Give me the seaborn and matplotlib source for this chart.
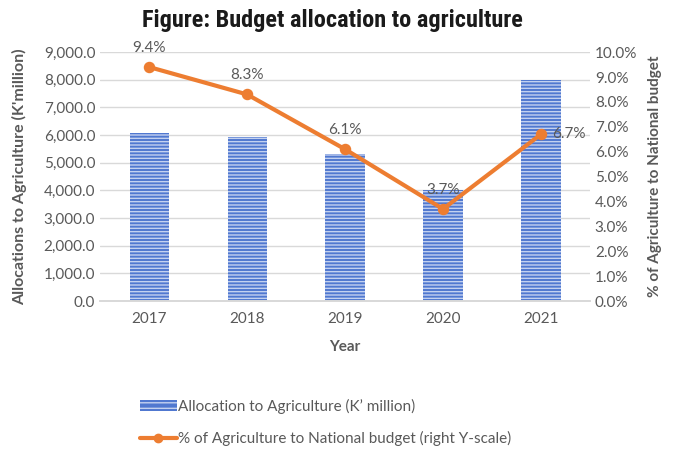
import matplotlib
matplotlib.use("Agg")
import matplotlib.pyplot as plt
import seaborn as sns
import pandas as pd
from matplotlib.ticker import FuncFormatter, MultipleLocator
from matplotlib.patches import Patch
from matplotlib.lines import Line2D

years = ["2017", "2018", "2019", "2020", "2021"]
allocation = [6070, 5930, 5310, 4000, 7980]
pct_national = [9.4, 8.3, 6.1, 3.7, 6.7]
pct_labels = ["9.4%", "8.3%", "6.1%", "3.7%", "6.7%"]

sns.set_theme(style="white")
plt.rcParams['font.family'] = ['Lato', 'DejaVu Sans']
plt.rcParams['hatch.linewidth'] = 1.0

df = pd.DataFrame({"Year": years, "Allocation": allocation, "Pct": pct_national})

fig = plt.figure(figsize=(6.86, 4.57), dpi=100)
ax = fig.add_axes([0.146, 0.341, 0.714, 0.545])
ax2 = ax.twinx()

sns.barplot(data=df, x="Year", y="Allocation", ax=ax, width=0.4,
            color="#4a72cc", saturation=1)
for p in ax.patches:
    p.set_facecolor("#5078d0")
    p.set_edgecolor("#c3d1f0")
    p.set_hatch("-----")
    p.set_linewidth(0)

sns.pointplot(data=df, x="Year", y="Pct", ax=ax2, color="#ED7D31",
              markers="o", markersize=6, linewidth=3)

ax.set_ylim(0, 9000)
ax.yaxis.set_major_locator(MultipleLocator(1000))
ax.yaxis.set_major_formatter(FuncFormatter(lambda v, _: f"{v:,.1f}"))
ax2.set_ylim(0, 10)
ax2.yaxis.set_major_locator(MultipleLocator(1))
ax2.yaxis.set_major_formatter(FuncFormatter(lambda v, _: f"{v:.1f}%"))

ax.grid(axis="y", color="#d9d9d9", linewidth=1)
ax.set_axisbelow(True)
for a in (ax, ax2):
    for s in ["top", "left", "right"]:
        a.spines[s].set_visible(False)
    a.spines["bottom"].set_color("#d9d9d9")
    a.tick_params(length=0, labelsize=11, colors="#595959")

ax.set_xlabel("Year", fontsize=11, fontweight="bold", color="#595959", labelpad=10)
ax.set_ylabel("Allocations to Agriculture (K'million)", fontsize=11.5,
              fontweight="bold", color="#595959", labelpad=12)
ax2.set_ylabel("% of Agriculture to National budget", fontsize=11,
               fontweight="bold", color="#595959", labelpad=8)
ax.tick_params(axis="x", pad=8)

for i, (v, lab) in enumerate(zip(pct_national, pct_labels)):
    if i == len(pct_national) - 1:
        ax2.annotate(lab, (i, v), xytext=(8, 0), textcoords="offset points",
                     ha="left", va="center", fontsize=11, color="#595959")
    else:
        ax2.annotate(lab, (i, v), xytext=(0, 9), textcoords="offset points",
                     ha="center", va="bottom", fontsize=11, color="#595959")

fig.text(0.485, 0.955, "Figure: Budget allocation to agriculture",
         ha="center", va="center", fontsize=17.5, fontweight="bold",
         fontstretch="condensed", color="#1a1a1a",
         family=["Roboto Condensed", "DejaVu Sans"])

handles = [Patch(facecolor="#5078d0", edgecolor="#c3d1f0", hatch="---", linewidth=0),
           Line2D([0], [0], color="#ED7D31", lw=3, marker="o", markersize=6)]
labels = ["Allocation to Agriculture (K\u2019 million)",
          "% of Agriculture to National budget (right Y-scale)"]
fig.legend(handles, labels, loc="upper left", bbox_to_anchor=(0.195, 0.14),
           frameon=False, fontsize=11, labelcolor="#595959", handlelength=2.4,
           handletextpad=0.1, labelspacing=1.1, borderaxespad=0)

fig.savefig("out.png", dpi=100)
